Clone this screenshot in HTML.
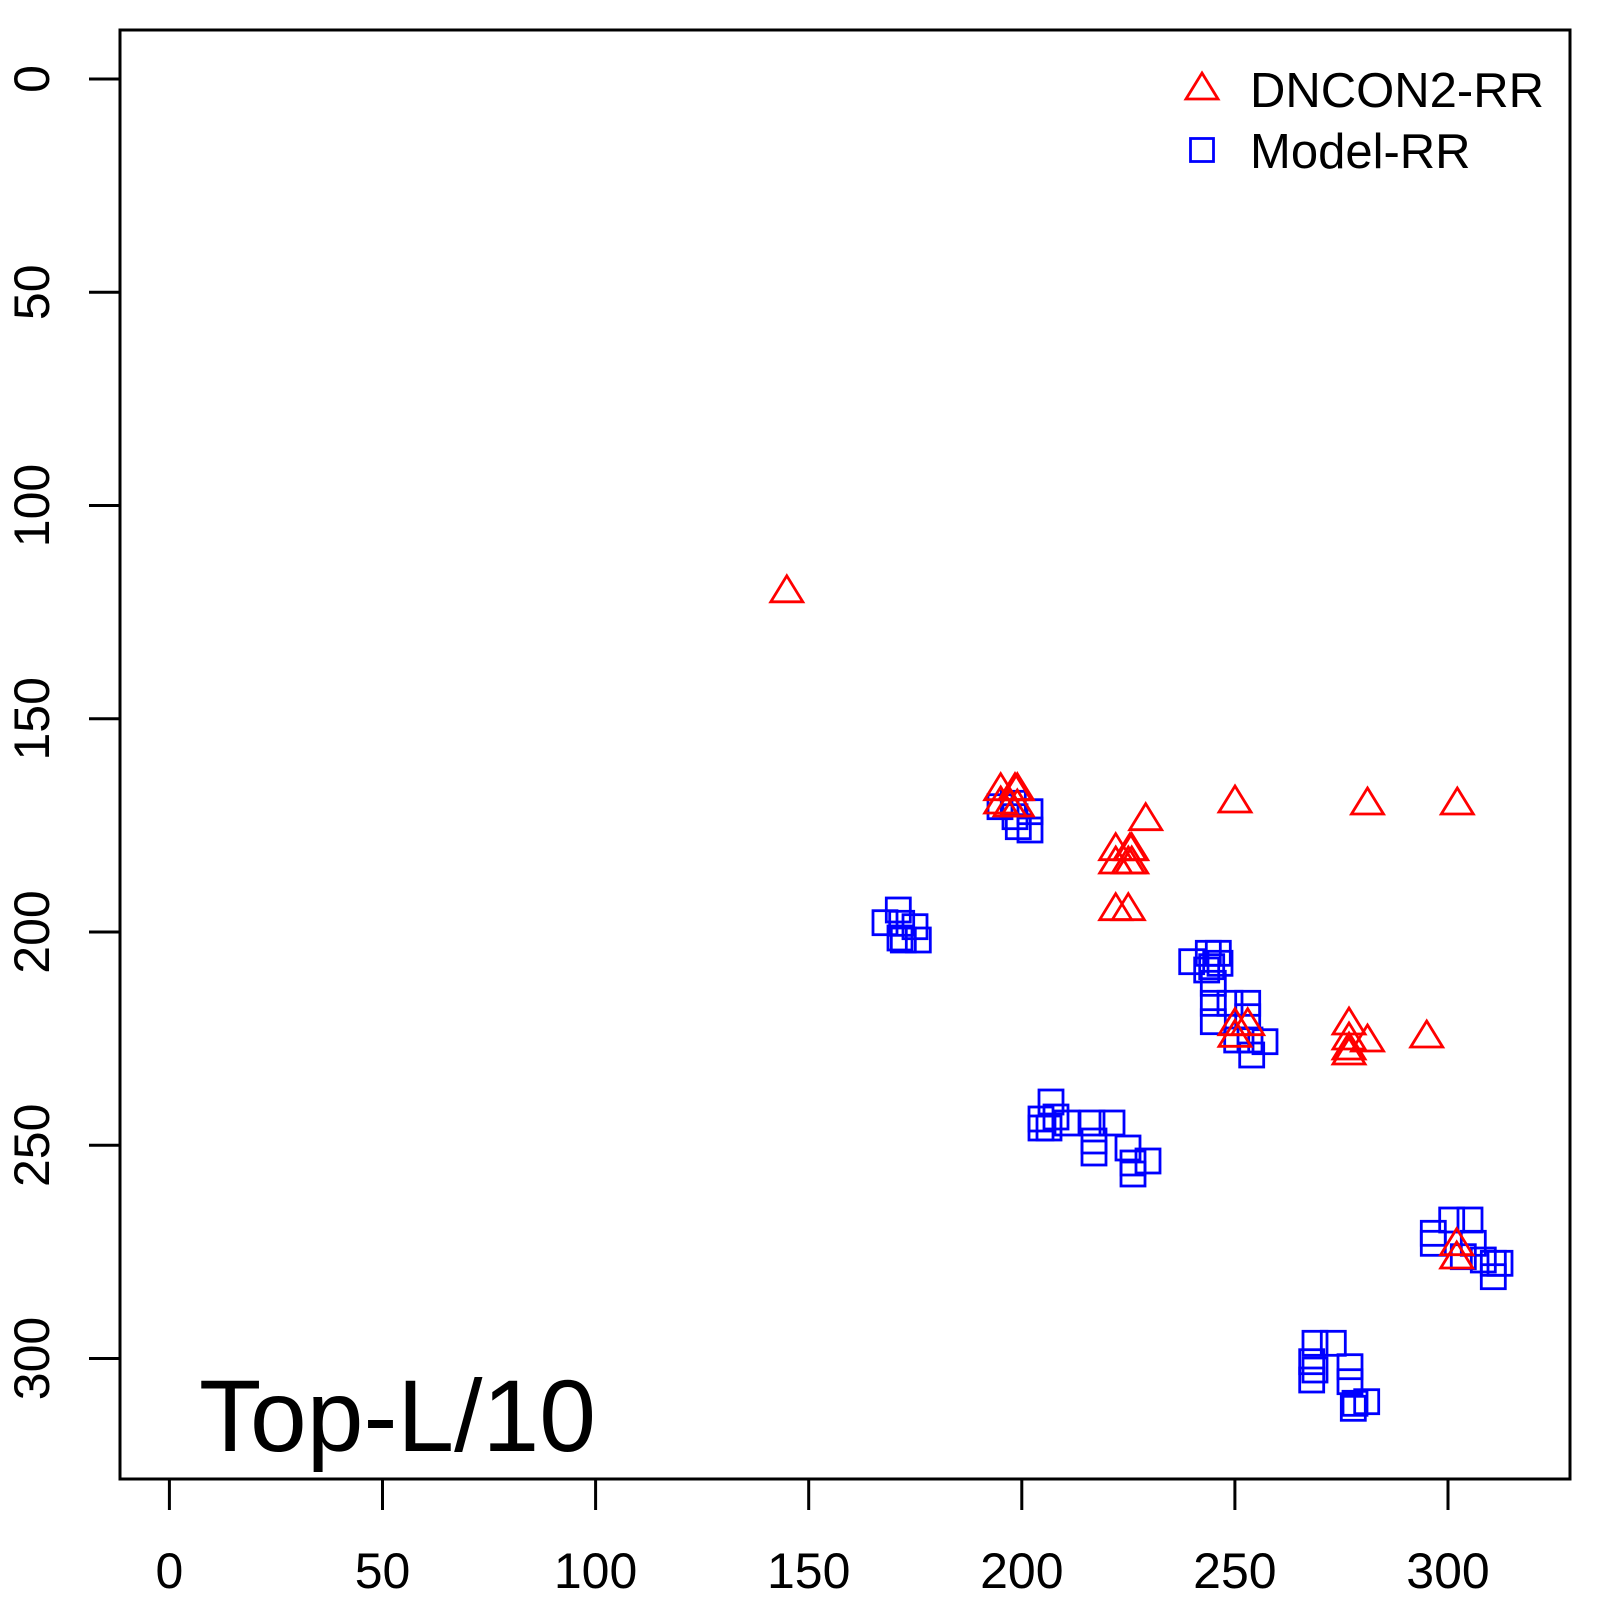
<!DOCTYPE html>
<html><head><meta charset="utf-8"><style>html,body{margin:0;padding:0;background:#fff}svg{display:block}</style></head>
<body>
<svg width="1600" height="1600" viewBox="0 0 1600 1600" xmlns="http://www.w3.org/2000/svg" font-family="Liberation Sans, sans-serif">
<rect x="0" y="0" width="1600" height="1600" fill="#fff"/>
<rect x="120" y="30" width="1450" height="1449" fill="none" stroke="#000" stroke-width="3"/>
<g stroke="#000" stroke-width="3">
<line x1="169.4" y1="1479" x2="169.4" y2="1510"/>
<line x1="382.5" y1="1479" x2="382.5" y2="1510"/>
<line x1="595.6" y1="1479" x2="595.6" y2="1510"/>
<line x1="808.7" y1="1479" x2="808.7" y2="1510"/>
<line x1="1021.8" y1="1479" x2="1021.8" y2="1510"/>
<line x1="1234.9" y1="1479" x2="1234.9" y2="1510"/>
<line x1="1448" y1="1479" x2="1448" y2="1510"/>
<line x1="89" y1="79" x2="120" y2="79"/>
<line x1="89" y1="292.3" x2="120" y2="292.3"/>
<line x1="89" y1="505.5" x2="120" y2="505.5"/>
<line x1="89" y1="718.8" x2="120" y2="718.8"/>
<line x1="89" y1="932" x2="120" y2="932"/>
<line x1="89" y1="1145.3" x2="120" y2="1145.3"/>
<line x1="89" y1="1358.5" x2="120" y2="1358.5"/>
</g>
<g font-size="50" text-anchor="middle" fill="#000">
<text x="169.4" y="1588">0</text>
<text x="382.5" y="1588">50</text>
<text x="595.6" y="1588">100</text>
<text x="808.7" y="1588">150</text>
<text x="1021.8" y="1588">200</text>
<text x="1234.9" y="1588">250</text>
<text x="1448" y="1588">300</text>
<text transform="translate(49,79) rotate(-90)">0</text>
<text transform="translate(49,292.3) rotate(-90)">50</text>
<text transform="translate(49,505.5) rotate(-90)">100</text>
<text transform="translate(49,718.8) rotate(-90)">150</text>
<text transform="translate(49,932) rotate(-90)">200</text>
<text transform="translate(49,1145.3) rotate(-90)">250</text>
<text transform="translate(49,1358.5) rotate(-90)">300</text>
</g>
<text x="199" y="1451" font-size="102" fill="#000">Top-L/10</text>
<defs>
<path id="t" d="M0,-13 L16,13 L-16,13 Z" fill="none" stroke="#f00" stroke-width="2.8"/>
<rect id="s" x="-12" y="-12" width="24" height="24" fill="none" stroke="#00f" stroke-width="2.8"/>
</defs>
<g>
<use href="#s" x="898.3" y="910"/><use href="#s" x="885" y="922.7"/><use href="#s" x="901.7" y="923.3"/><use href="#s" x="915" y="926.7"/><use href="#s" x="903.3" y="940"/><use href="#s" x="918.3" y="940"/><use href="#s" x="900" y="938"/>
<use href="#s" x="1000" y="806.7"/><use href="#s" x="1013.3" y="803.3"/><use href="#s" x="1030" y="811.7"/><use href="#s" x="1018.3" y="826.7"/><use href="#s" x="1030" y="830"/><use href="#s" x="1015" y="816.7"/>
<use href="#s" x="1191.7" y="961.7"/><use href="#s" x="1208.3" y="953.3"/><use href="#s" x="1218.3" y="953.3"/><use href="#s" x="1211.7" y="966.7"/><use href="#s" x="1206.7" y="970"/><use href="#s" x="1213.3" y="983.3"/><use href="#s" x="1220" y="963.3"/>
<use href="#s" x="1213.3" y="1003.3"/><use href="#s" x="1213.3" y="1021.7"/><use href="#s" x="1230" y="1003.3"/><use href="#s" x="1247.7" y="1003.3"/><use href="#s" x="1247.7" y="1016.7"/><use href="#s" x="1236.7" y="1040"/><use href="#s" x="1251.7" y="1055"/><use href="#s" x="1265" y="1041.7"/><use href="#s" x="1250" y="1040"/>
<use href="#s" x="1051" y="1102"/><use href="#s" x="1041" y="1119"/><use href="#s" x="1056" y="1117"/><use href="#s" x="1067" y="1123"/><use href="#s" x="1049" y="1128"/><use href="#s" x="1041" y="1128"/>
<use href="#s" x="1092" y="1123"/><use href="#s" x="1112" y="1123"/><use href="#s" x="1094" y="1153"/><use href="#s" x="1094" y="1141"/>
<use href="#s" x="1128" y="1148"/><use href="#s" x="1133" y="1163"/><use href="#s" x="1148" y="1161"/><use href="#s" x="1133" y="1174"/>
<use href="#s" x="1433.3" y="1233.3"/><use href="#s" x="1433.3" y="1243.3"/><use href="#s" x="1451.7" y="1220"/><use href="#s" x="1470" y="1220"/><use href="#s" x="1473.3" y="1243.3"/><use href="#s" x="1463.3" y="1256.7"/><use href="#s" x="1483.3" y="1260"/><use href="#s" x="1493.3" y="1263.3"/><use href="#s" x="1493.3" y="1276.7"/><use href="#s" x="1500" y="1263.3"/>
<use href="#s" x="1315" y="1343.3"/><use href="#s" x="1333.3" y="1343.3"/><use href="#s" x="1311.7" y="1361.7"/><use href="#s" x="1311.7" y="1380"/><use href="#s" x="1315" y="1370"/><use href="#s" x="1350" y="1366.7"/><use href="#s" x="1350" y="1381.7"/><use href="#s" x="1355" y="1403.3"/><use href="#s" x="1366.7" y="1401.7"/><use href="#s" x="1353.3" y="1408.3"/>
</g>
<g>
<use href="#t" x="786.8" y="588.8"/>
<use href="#t" x="1000.7" y="786.7"/><use href="#t" x="1015" y="786.7"/><use href="#t" x="1017.3" y="786.7"/><use href="#t" x="1000.7" y="800"/><use href="#t" x="1010" y="803"/><use href="#t" x="1017.3" y="803"/>
<use href="#t" x="1145.7" y="816.7"/><use href="#t" x="1235" y="799"/><use href="#t" x="1367.5" y="801"/><use href="#t" x="1457.3" y="801"/>
<use href="#t" x="1115.7" y="846.7"/><use href="#t" x="1130" y="846.7"/><use href="#t" x="1131.7" y="846.7"/><use href="#t" x="1115.7" y="860"/><use href="#t" x="1128.3" y="860"/><use href="#t" x="1131.7" y="860"/>
<use href="#t" x="1115.7" y="906.7"/><use href="#t" x="1128.3" y="906.7"/>
<use href="#t" x="1235" y="1021.7"/><use href="#t" x="1247.7" y="1021.7"/><use href="#t" x="1235" y="1033.3"/>
<use href="#t" x="1349" y="1021"/><use href="#t" x="1349" y="1036"/><use href="#t" x="1349" y="1046"/><use href="#t" x="1349" y="1051"/><use href="#t" x="1367.5" y="1038"/><use href="#t" x="1426.7" y="1034"/>
<use href="#t" x="1456.7" y="1241.7"/><use href="#t" x="1456.7" y="1255"/>
</g>
<use href="#t" x="1202" y="86"/>
<rect x="1190.5" y="138.5" width="23" height="23" fill="none" stroke="#00f" stroke-width="2.8"/>
<text x="1250" y="107" font-size="49" fill="#000">DNCON2-RR</text>
<text x="1250" y="168" font-size="49" fill="#000">Model-RR</text>
</svg>
</body></html>
